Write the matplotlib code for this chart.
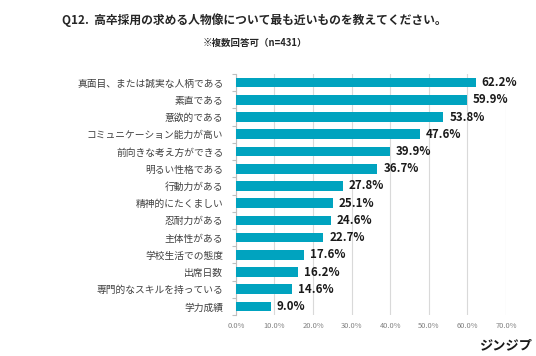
import matplotlib.pyplot as plt
import numpy as np

plt.rcParams['font.family'] = ['Noto Sans CJK JP', 'DejaVu Sans']

categories = ['真面目、または誠実な人柄である', '素直である', '意欲的である',
              'コミュニケーション能力が高い', '前向きな考え方ができる', '明るい性格である',
              '行動力がある', '精神的にたくましい', '忍耐力がある', '主体性がある',
              '学校生活での態度', '出席日数', '専門的なスキルを持っている', '学力成績']
values = [62.2, 59.9, 53.8, 47.6, 39.9, 36.7, 27.8, 25.1, 24.6, 22.7, 17.6, 16.2, 14.6, 9.0]
xticks = [0, 10, 20, 30, 40, 50, 60, 70]

fig = plt.figure(figsize=(5.36, 3.56), dpi=100)
ax = fig.add_axes([0.440, 0.115, 0.504, 0.677])

y = np.arange(len(categories))
ax.barh(y, values, height=0.56, color='#00A3BF', zorder=3)
ax.set_ylim(len(categories) - 0.5, -0.5)
ax.set_xlim(0, 70)

ax.set_yticks(y)
ax.set_yticklabels(categories, fontsize=7, color='#404040')
ax.set_yticks(np.arange(-0.5, len(categories), 1), minor=True)
ax.tick_params(axis='y', which='major', length=0, pad=9)
ax.tick_params(axis='y', which='minor', length=3, color='#bfbfbf', width=0.8)

ax.set_xticks(xticks)
ax.set_xticklabels([f'{v:.1f}%' for v in xticks], fontsize=5.4, color='#808080')
ax.tick_params(axis='x', length=0, pad=5)
ax.grid(axis='x', color='#d9d9d9', linewidth=0.8, zorder=0)

for s in ['top', 'right', 'bottom']:
    ax.spines[s].set_visible(False)
ax.spines['left'].set_color('#bfbfbf')
ax.spines['left'].set_linewidth(0.8)

for yi, v in zip(y, values):
    ax.text(v + 1.5, yi, f'{v:.1f}%', va='center', ha='left', fontsize=8.3,
            fontweight='semibold', color='#1a1a1a', zorder=4)

fig.text(0.474, 0.944, 'Q12.  高卒採用の求める人物像について最も近いものを教えてください。',
         ha='center', va='center', fontsize=8.5, fontweight='bold', color='#262626')
fig.text(0.476, 0.879, '※複数回答可（n=431）', ha='center', va='center',
         fontsize=6.8, fontweight='bold', color='#262626')
fig.text(0.993, 0.030, 'ジンジプ', ha='right', va='center', fontsize=9.5,
         fontweight='bold', color='#1a1a1a')

fig.savefig('out.png', dpi=100)
